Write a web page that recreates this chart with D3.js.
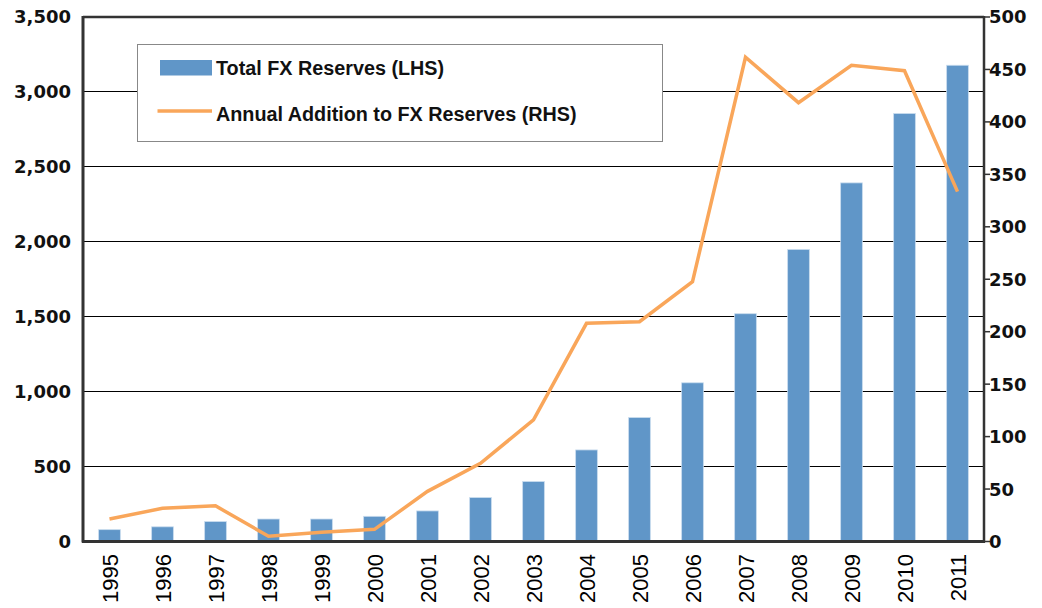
<!DOCTYPE html>
<html><head><meta charset="utf-8">
<script src="https://cdn.jsdelivr.net/npm/d3@7"></script>
<style>
html,body{margin:0;padding:0;background:#fff;}
svg{display:block;}
</style></head>
<body>
<svg id="chart" width="1042" height="608"></svg>
<script>
const years = ["1995","1996","1997","1998","1999","2000","2001","2002","2003","2004","2005","2006","2007","2008","2009","2010","2011"];
const totalReserves = [79, 98, 133, 150, 150, 168, 204, 293, 400, 611, 827, 1059, 1520, 1949, 2393, 2856, 3178];
const annualAddition = [21.5, 31.6, 34, 5, 8.8, 11.6, 47.8, 74.5, 116, 208, 209.5, 247.7, 461.6, 418.3, 454, 448.8, 333.5];
const leftTicks = [0, 500, 1000, 1500, 2000, 2500, 3000, 3500];
const rightTicks = [0, 50, 100, 150, 200, 250, 300, 350, 400, 450, 500];
const legendLabels = ["Total FX Reserves (LHS)", "Annual Addition to FX Reserves (RHS)"];

const svg = d3.select("#chart");
const L = 83, R = 984, T = 17, B = 541.5;
const barColor = "#6096c8", lineColor = "#f9a65a";

const x = d3.scaleBand().domain(years).range([L, R]).paddingInner(0.59).paddingOuter(0.295);
const yL = d3.scaleLinear().domain([0, 3500]).range([B, T]);
const yR = d3.scaleLinear().domain([0, 500]).range([B, T]);

// gridlines
svg.append("g").selectAll("line").data(leftTicks.filter(d => d > 0 && d < 3500)).join("line")
  .attr("x1", L).attr("x2", R).attr("y1", d => yL(d)).attr("y2", d => yL(d))
  .attr("stroke", "#000").attr("stroke-width", 1).attr("shape-rendering", "crispEdges");

// bars
svg.append("g").selectAll("rect").data(years).join("rect")
  .attr("x", d => x(d)).attr("width", x.bandwidth())
  .attr("y", (d, i) => yL(totalReserves[i]))
  .attr("height", (d, i) => yL(0) - yL(totalReserves[i]))
  .attr("fill", barColor).attr("stroke", "#c9dcee").attr("stroke-width", 0.8);

// line
const line = d3.line().x((d, i) => x(years[i]) + x.bandwidth() / 2).y(d => yR(d));
svg.append("path").datum(annualAddition).attr("d", line)
  .attr("fill", "none").attr("stroke", lineColor).attr("stroke-width", 3.5).attr("stroke-linejoin", "miter");

// frame
svg.append("line").attr("x1", L).attr("x2", R).attr("y1", T).attr("y2", T).attr("stroke", "#333").attr("stroke-width", 2.5);
svg.append("line").attr("x1", L).attr("x2", L).attr("y1", T - 1).attr("y2", B + 1).attr("stroke", "#333").attr("stroke-width", 3);
svg.append("line").attr("x1", R).attr("x2", R).attr("y1", T - 1).attr("y2", B + 1).attr("stroke", "#333").attr("stroke-width", 2.5);
svg.append("line").attr("x1", L - 1).attr("x2", R + 1).attr("y1", B).attr("y2", B).attr("stroke", "#333").attr("stroke-width", 3);

// left axis labels
const fmt = d3.format(",");
svg.append("g").selectAll("text").data(leftTicks).join("text")
  .attr("x", 71).attr("y", d => yL(d)).attr("dy", "0.36em").attr("text-anchor", "end")
  .attr("font-family", "DejaVu Sans").attr("font-weight", "bold").attr("font-size", 18).attr("fill", "#111")
  .text(d => fmt(d));

// right axis ticks & labels
const rAxis = svg.append("g");
rAxis.selectAll("line").data(rightTicks).join("line")
  .attr("x1", R).attr("x2", R + 6).attr("y1", d => yR(d)).attr("y2", d => yR(d))
  .attr("stroke", "#333").attr("stroke-width", 1.5);
rAxis.selectAll("text").data(rightTicks).join("text")
  .attr("x", 989).attr("y", d => yR(d)).attr("dy", "0.36em").attr("text-anchor", "start")
  .attr("font-family", "DejaVu Sans").attr("font-weight", "bold").attr("font-size", 18).attr("fill", "#111")
  .text(d => d);

// x labels
svg.append("g").selectAll("text").data(years).join("text")
  .attr("transform", d => `translate(${x(d) + x.bandwidth() / 2 + 8},554) rotate(-90)`)
  .attr("text-anchor", "end")
  .attr("font-family", "Liberation Sans").attr("font-size", 22).attr("fill", "#000")
  .text(d => d);

// legend
const lg = svg.append("g");
lg.append("rect").attr("x", 137.5).attr("y", 44.5).attr("width", 525).attr("height", 97)
  .attr("fill", "#fff").attr("stroke", "#888").attr("stroke-width", 1);
lg.append("rect").attr("x", 160).attr("y", 60).attr("width", 52).attr("height", 15.5).attr("fill", barColor);
lg.append("line").attr("x1", 157.5).attr("x2", 212).attr("y1", 111).attr("y2", 111)
  .attr("stroke", lineColor).attr("stroke-width", 3.5);
lg.selectAll("text").data(legendLabels).join("text")
  .attr("transform", (d, i) => `translate(216,${i === 0 ? 75 : 121}) scale(0.965,1)`)
  .attr("font-family", "Liberation Sans").attr("font-weight", "bold")
  .attr("font-size", 20.5).attr("fill", "#111")
  .text(d => d);
</script>
</body></html>
